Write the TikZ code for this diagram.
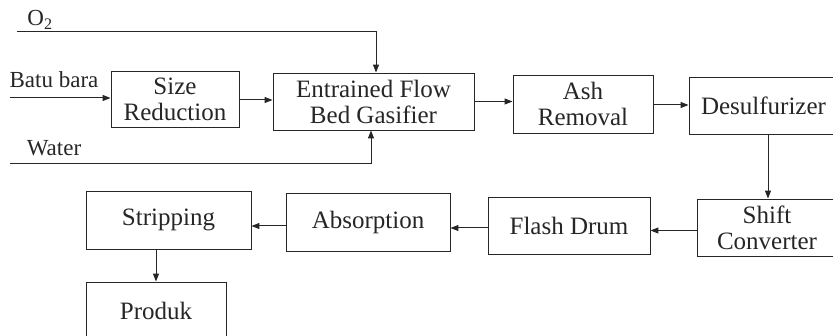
\documentclass[tikz,border=0pt]{standalone}
\usepackage{fontspec}
\setmainfont{Liberation Serif}
\usetikzlibrary{arrows.meta}
\begin{document}
\begin{tikzpicture}[x=1pt,y=-1pt,
  box/.style={draw=black!85, line width=0.9pt, inner sep=0pt, align=center,
    font=\fontsize{25}{26}\selectfont, text=black!85},
  lbl/.style={inner sep=0pt, font=\fontsize{23}{25}\selectfont, text=black!85},
  flow/.style={draw=black!85, line width=1pt, -{Triangle[length=8pt,width=6pt]}}]
\useasboundingbox (0,0) rectangle (833,336);
\clip (0,0) rectangle (833,336);
% process boxes
\node[box, minimum width=128pt, minimum height=56pt] (size) at (175,99) {Size\\Reduction};
\node[box, minimum width=201pt, minimum height=57pt] (gas) at (373.5,101.5) {Entrained Flow\\Bed Gasifier};
\node[box, minimum width=140pt, minimum height=58pt] (ash) at (583,104) {Ash\\Removal};
\node[box, minimum width=149pt, minimum height=57pt] (des) at (763.5,105.5) {Desulfurizer};
\node[box, minimum width=140pt, minimum height=57pt] (shift) at (767,227.5) {Shift\\Converter};
\node[box, minimum width=162pt, minimum height=57pt] (flash) at (569,225.5) {Flash Drum};
\node[box, minimum width=164pt, minimum height=58pt] (abs) at (368,222) {Absorption};
\node[box, minimum width=165pt, minimum height=58pt] (strip) at (168.5,220) {Stripping};
\node[box, minimum width=140pt, minimum height=58pt] (prod) at (156,311) {Produk};
% input labels
\node[lbl] (o2) at (40,20) {O\textsubscript{2}};
\node[lbl] (batu) at (54,80) {Batu bara};
\node[lbl] (water) at (54,148) {Water};
% free ends
\coordinate (o2in) at (17,32);
\coordinate (batuin) at (10,98);
\coordinate (waterin) at (10,164);
% connectors
\draw[flow] (o2in) -| ([xshift=2.5pt]gas.north);
\draw[flow] (batuin) -- (batuin -| size.west);
\draw[flow] (waterin) -| ([xshift=-2.5pt]gas.south);
\draw[flow] ([yshift=-1pt]size.east) -- ([yshift=-1pt]size.east -| gas.west);
\draw[flow] (gas.east) -- (gas.east -| ash.west);
\draw[flow] ([yshift=-1pt]ash.east) -- ([yshift=-1pt]ash.east -| des.west);
\draw[flow] ([xshift=4.5pt]des.south) -- ([xshift=1pt]shift.north);
\draw[flow] ([yshift=-3pt]shift.west) -- ([yshift=-3pt]shift.west -| flash.east);
\draw[flow] ([yshift=-2.5pt]flash.west) -- ([yshift=-2.5pt]flash.west -| abs.east);
\draw[flow] ([yshift=-4pt]abs.west) -- ([yshift=-4pt]abs.west -| strip.east);
\draw[flow] (strip.south -| prod.north) -- (prod.north);
\end{tikzpicture}
\end{document}
